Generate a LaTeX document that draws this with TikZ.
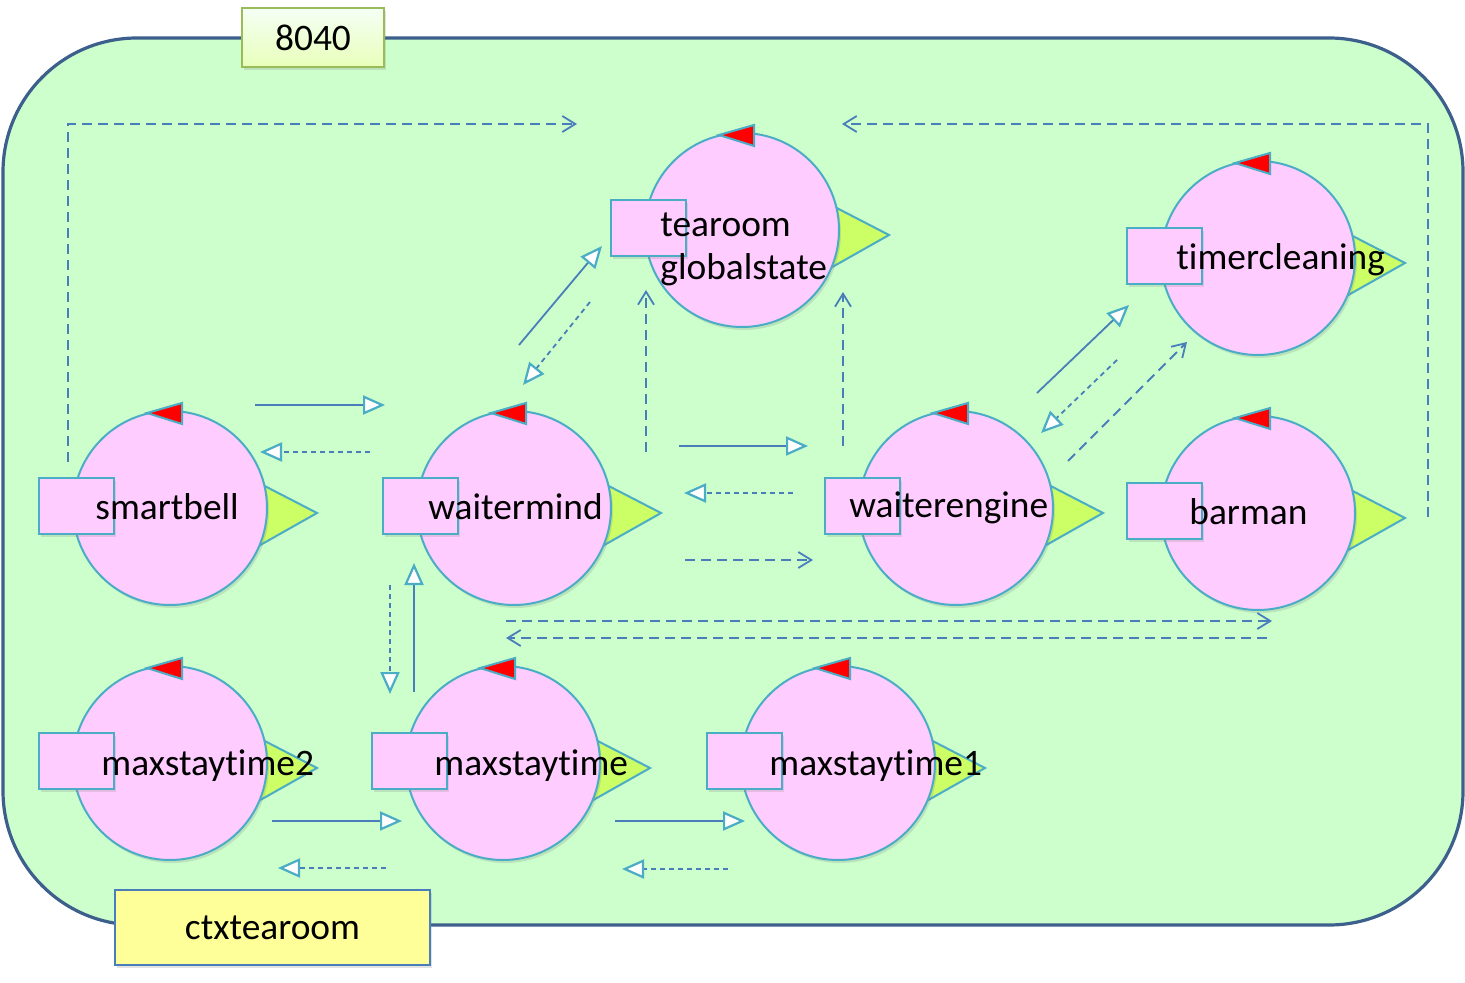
\documentclass[tikz,border=0pt]{standalone}
\usepackage{fontspec}
\setmainfont{Carlito}[Ligatures=NoCommon]
\usetikzlibrary{arrows.meta,shadows}

\definecolor{ctxfill}{HTML}{CCFFCC}
\definecolor{ctxline}{HTML}{3C5F8C}
\definecolor{actfill}{HTML}{FFCCFF}
\definecolor{actline}{HTML}{4BACC6}
\definecolor{outfill}{HTML}{CCFF66}
\definecolor{msgblue}{HTML}{4A7EBB}
\definecolor{portline}{HTML}{9BBB59}
\definecolor{namefill}{HTML}{FFFF99}

% one actor: output tip, body, input port, control tip
\newcommand{\actorfig}[3]{%
  \begin{scope}[shift={(#2,#3)}]
    \draw[outtip] (85,-27) -- (147,5) -- (85,40) -- cycle;
    \node[actorbody] (#1) at (0,0) {};
    \draw[inport] (-131,-30) rectangle (-56,26);
    \draw[ctrltip] (-23,-95) -- (12,-105) -- (12,-84) -- cycle;
  \end{scope}}

\begin{document}
\begin{tikzpicture}[x=0.5pt, y=-0.5pt,
    shade/.style={drop shadow={opacity=0.22, shadow xshift=1pt, shadow yshift=-1.5pt}},
    actorbody/.style={circle, draw=actline, fill=actfill, line width=1pt,
      minimum size=97pt, inner sep=0pt, shade},
    inport/.style={draw=actline, fill=actfill, line width=1.1pt, shade},
    outtip/.style={draw=actline, fill=outfill, line width=1pt},
    ctrltip/.style={draw=actline, fill=red, line width=1pt},
    lbl/.style={font=\fontsize{18.7}{22}\selectfont, inner sep=0pt, anchor=base west},
    req/.style={draw=msgblue, line width=0.9pt,
      -{Triangle[length=11pt, width=9.5pt, color=actline, fill=white, line width=1.1pt]}},
    reply/.style={req, dash pattern=on 2.5pt off 2pt},
    event/.style={draw=msgblue, line width=0.9pt, dash pattern=on 5pt off 3pt,
      -{Straight Barb[length=6.5pt, width=8pt, line width=0.9pt]}}]
  \useasboundingbox (0,0) rectangle (1465,983);

  % Context frame and its tags
  \node[draw=ctxline, fill=ctxfill, line width=1.6pt, rounded corners=67pt,
    minimum width=730pt, minimum height=443.5pt, inner sep=0pt] (ctx) at (733,481.5) {};
  \node[draw=portline, line width=1pt, top color=green!4!white, bottom color=outfill!45!white,
    minimum width=71pt, minimum height=29.5pt, inner sep=0pt, shade,
    font=\fontsize{18.7}{22}\selectfont] (port) at (313,37.5) {8040};
  \node[draw=msgblue, fill=namefill, line width=1pt, minimum width=157.5pt,
    minimum height=37.5pt, inner sep=0pt, shade,
    font=\fontsize{18.7}{22}\selectfont] (ctxname) at (272.5,927.5) {ctxtearoom};

  % Actors
  \actorfig{smartbell}{170}{508}
  \actorfig{waitermind}{514}{508}
  \actorfig{globalstate}{742}{230}
  \actorfig{timercleaning}{1258}{258}
  \actorfig{waiterengine}{956}{508}
  \actorfig{barman}{1258}{513}
  \actorfig{maxstaytimeB}{170}{763}
  \actorfig{maxstaytime}{503}{763}
  \actorfig{maxstaytimeA}{838}{763}

  % Actor names
  \node[lbl] (smartbell-lbl) at (95,519) {smartbell};
  \node[lbl] (waitermind-lbl) at (428,519) {waitermind};
  \node[lbl] (globalstate-lbl) at (660,237) {tearoom};
  \node[lbl] (globalstate-lbl2) at (660,280) {globalstate};
  \node[lbl] (timercleaning-lbl) at (1176,270) {timercleaning};
  \node[lbl] (waiterengine-lbl) at (849,517) {waiterengine};
  \node[lbl] (barman-lbl) at (1189,524) {barman};
  \node[lbl] (maxstaytimeB-lbl) at (101,775) {maxstaytime2};
  \node[lbl] (maxstaytime-lbl) at (434,775) {maxstaytime};
  \node[lbl] (maxstaytimeA-lbl) at (769,775) {maxstaytime1};

  % Message end points
  \foreach \c/\x/\y in {sbwm1/255/405, sbwm2/385/405, wmsb1/370/452, wmsb2/260/452,
      sbev1/68/462, sbev2/68/124, sbev3/577/124,
      brev1/1428/517, brev2/1428/124, brev3/842/124,
      wmgs1/519/345, wmgs2/602/246, gswm1/590/302, gswm2/523/385,
      wmev1/646/452, wmev2/646/290, weev1/843/446, weev2/843/292,
      wmwe1/679/446, wmwe2/808/446, wewm1/793/493, wewm2/684/493,
      wmwe3/685/560, wmwe4/813/560,
      lgev1/506/621, lgev2/1272/621, lgev3/1267/638, lgev4/506/638,
      wetc1/1037/393, wetc2/1129/305, tcwe1/1117/360, tcwe2/1041/433,
      wetc3/1068/461, wetc4/1187/342,
      wmms1/390/585, wmms2/390/694, mswm1/414/692, mswm2/414/563,
      mbms1/272/821, mbms2/402/821, msmb1/386/868, msmb2/278/868,
      msma1/615/821, msma2/745/821, mams1/728/869, mams2/622/869}
    \coordinate (\c) at (\x,\y);

  % smartbell <-> waitermind
  \draw[req] (sbwm1) -- (sbwm2);
  \draw[reply] (wmsb1) -- (wmsb2);
  % events up to the global state
  \draw[event] (sbev1) -- (sbev2) -- (sbev3);
  \draw[event] (brev1) -- (brev2) -- (brev3);
  \draw[event] (wmev1) -- (wmev2);
  \draw[event] (weev1) -- (weev2);
  % waitermind <-> globalstate
  \draw[req] (wmgs1) -- (wmgs2);
  \draw[reply] (gswm1) -- (gswm2);
  % waitermind <-> waiterengine
  \draw[req] (wmwe1) -- (wmwe2);
  \draw[reply] (wewm1) -- (wewm2);
  \draw[event] (wmwe3) -- (wmwe4);
  \draw[event] (lgev1) -- (lgev2);
  \draw[event] (lgev3) -- (lgev4);
  % waiterengine <-> timercleaning
  \draw[req] (wetc1) -- (wetc2);
  \draw[reply] (tcwe1) -- (tcwe2);
  \draw[event] (wetc3) -- (wetc4);
  % waitermind <-> maxstaytime
  \draw[reply] (wmms1) -- (wmms2);
  \draw[req] (mswm1) -- (mswm2);
  % maxstaytime chain
  \draw[req] (mbms1) -- (mbms2);
  \draw[reply] (msmb1) -- (msmb2);
  \draw[req] (msma1) -- (msma2);
  \draw[reply] (mams1) -- (mams2);
\end{tikzpicture}
\end{document}
